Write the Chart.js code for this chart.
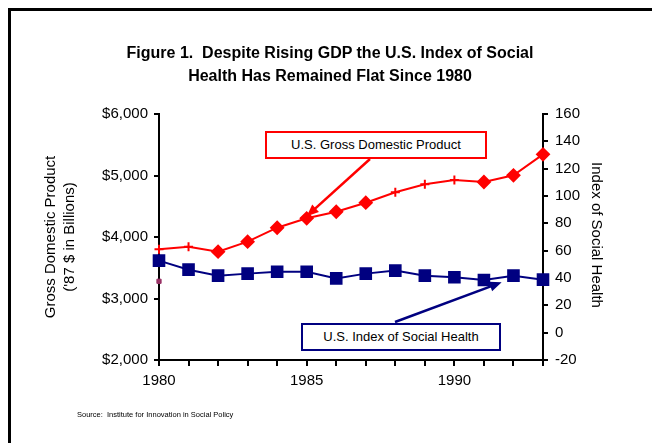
<!DOCTYPE html>
<html>
<head>
<meta charset="utf-8">
<script src="https://cdn.jsdelivr.net/npm/chart.js@4/dist/chart.umd.min.js"></script>
<style>
  body { margin: 0; background: #fff; font-family: "Liberation Sans", Arial, sans-serif; }
  #wrap { position: relative; width: 652px; height: 443px; overflow: hidden; }
  #frame { position: absolute; left: 8px; top: 8px; width: 700px; height: 500px; border-left: 3px solid #000; border-top: 3px solid #000; }
  canvas { position: absolute; left: 0; top: 0; }
  .title { position: absolute; left: 0; width: 660px; text-align: center; font-weight: bold; font-size: 16px; color: #000; }
  .box { position: absolute; background: #fff; font-size: 13px; text-align: center; box-sizing: border-box; color: #000; }
  .vt { position: absolute; width: 200px; height: 18px; line-height: 18px; text-align: center; font-size: 15px; white-space: nowrap; color: #000; }
  .src { position: absolute; left: 77px; top: 410px; font-size: 7.5px; }
</style>
</head>
<body>
<div id="wrap">
  <div id="frame"></div>
  <canvas id="myChart" width="652" height="443"></canvas>
  <div class="title" style="top:44px">Figure 1.&nbsp; Despite Rising GDP the U.S. Index of Social</div>
  <div class="title" style="top:67px">Health Has Remained Flat Since 1980</div>
  <div class="vt" style="left:-50px; top:228px; transform:rotate(-90deg)">Gross Domestic Product</div>
  <div class="vt" style="left:-31px; top:228px; transform:rotate(-90deg)">('87 $ in Billions)</div>
  <div class="vt" style="left:497px; top:226px; transform:rotate(90deg)">Index of Social Health</div>
  <div class="box" style="left:265px; top:131px; width:222px; height:28px; line-height:24px; border:2px solid #ff0000">U.S. Gross Domestic Product</div>
  <div class="box" style="left:301px; top:323px; width:200px; height:28px; line-height:24px; border:2px solid #000080">U.S. Index of Social Health</div>
  <div class="src">Source:&nbsp; Institute for Innovation in Social Policy</div>
</div>
<script>
const years = [1980, 1981, 1982, 1983, 1984, 1985, 1986, 1987, 1988, 1989, 1990, 1991, 1992, 1993];
const gdp = [3800, 3842, 3761, 3924, 4151, 4304, 4411, 4558, 4727, 4857, 4927, 4894, 5003, 5344];
const gdpMarkers = ['cross', 'cross', 'rectRot', 'rectRot', 'rectRot', 'rectRot', 'rectRot', 'rectRot', 'cross', 'cross', 'cross', 'rectRot', 'rectRot', 'rectRot'];
const socialHealth = [52.7, 46.1, 41.7, 43.2, 44.6, 44.6, 39.7, 43.2, 45.4, 41.7, 40.5, 38.5, 41.7, 38.8];
const strayMark = [3280]; // small purple mark at 1980

const black = '#000';

// arrows from the callout boxes to the lines
const arrows = {
  id: 'arrows',
  afterDatasetsDraw(chart) {
    const { ctx, scales } = chart;
    function arrow(x1, y1, x2, y2, color) {
      const a = Math.atan2(y2 - y1, x2 - x1);
      ctx.save();
      ctx.strokeStyle = color;
      ctx.fillStyle = color;
      ctx.lineWidth = 2.5;
      ctx.beginPath();
      ctx.moveTo(x1, y1);
      ctx.lineTo(x2 - 8 * Math.cos(a), y2 - 8 * Math.sin(a));
      ctx.stroke();
      ctx.beginPath();
      ctx.moveTo(x2, y2);
      ctx.lineTo(x2 - 12 * Math.cos(a) + 5 * Math.sin(a), y2 - 12 * Math.sin(a) - 5 * Math.cos(a));
      ctx.lineTo(x2 - 12 * Math.cos(a) - 5 * Math.sin(a), y2 - 12 * Math.sin(a) + 5 * Math.cos(a));
      ctx.closePath();
      ctx.fill();
      ctx.restore();
    }
    arrow(370, 159, scales.x.getPixelForValue(1985), scales.y.getPixelForValue(gdp[5]) - 2, '#ff0000');
    arrow(395, 322, scales.x.getPixelForValue(1991.6), scales.y2.getPixelForValue(36.8), '#000080');
  }
};

const ctx = document.getElementById('myChart').getContext('2d');
new Chart(ctx, {
  type: 'line',
  data: {
    datasets: [
      {
        label: 'U.S. Gross Domestic Product',
        data: years.map((y, i) => ({ x: y, y: gdp[i] })),
        yAxisID: 'y',
        borderColor: '#ff0000',
        backgroundColor: '#ff0000',
        borderWidth: 2,
        pointStyle: gdpMarkers,
        pointRadius: gdpMarkers.map(m => m === 'cross' ? 4.5 : 6),
        pointBorderWidth: 2,
        clip: false
      },
      {
        label: 'U.S. Index of Social Health',
        data: years.map((y, i) => ({ x: y, y: socialHealth[i] })),
        yAxisID: 'y2',
        borderColor: '#000080',
        backgroundColor: '#000080',
        borderWidth: 2,
        pointStyle: 'rect',
        pointRadius: 7.5,
        clip: false
      },
      {
        label: 'mark',
        data: [{ x: years[0], y: strayMark[0] }],
        yAxisID: 'y',
        showLine: false,
        borderColor: '#993366',
        backgroundColor: '#993366',
        pointStyle: 'rect',
        pointRadius: 3,
        clip: false
      }
    ]
  },
  options: {
    responsive: false,
    animation: false,
    layout: { padding: { top: 114, left: 0, right: 0, bottom: 0 } },
    plugins: { legend: { display: false }, tooltip: { enabled: false } },
    scales: {
      x: {
        type: 'linear',
        min: 1980,
        max: 1993,
        afterFit(s) { s.height = 83; },
        ticks: {
          stepSize: 1,
          autoSkip: false,
          maxRotation: 0,
          padding: 6,
          color: black,
          font: { family: 'Liberation Sans', size: 15 },
          callback: v => (v % 5 === 0 ? String(v) : '')
        },
        grid: { drawOnChartArea: false, color: black, lineWidth: 2, tickLength: 6 },
        border: { color: black, width: 2 }
      },
      y: {
        position: 'left',
        min: 2000,
        max: 6000,
        afterFit(s) { s.width = 159; },
        ticks: {
          stepSize: 1000,
          padding: 6,
          color: black,
          font: { family: 'Liberation Sans', size: 15 },
          callback: v => '$' + v.toLocaleString('en-US')
        },
        grid: { drawOnChartArea: false, color: black, lineWidth: 2, tickLength: 5 },
        border: { color: black, width: 2 }
      },
      y2: {
        position: 'right',
        min: -20,
        max: 160,
        afterFit(s) { s.width = 109; },
        ticks: {
          stepSize: 20,
          padding: 7,
          color: black,
          font: { family: 'Liberation Sans', size: 15 }
        },
        grid: { drawOnChartArea: false, color: black, lineWidth: 2, tickLength: 5 },
        border: { color: black, width: 2 }
      }
    }
  },
  plugins: [arrows]
});
</script>
</body>
</html>
